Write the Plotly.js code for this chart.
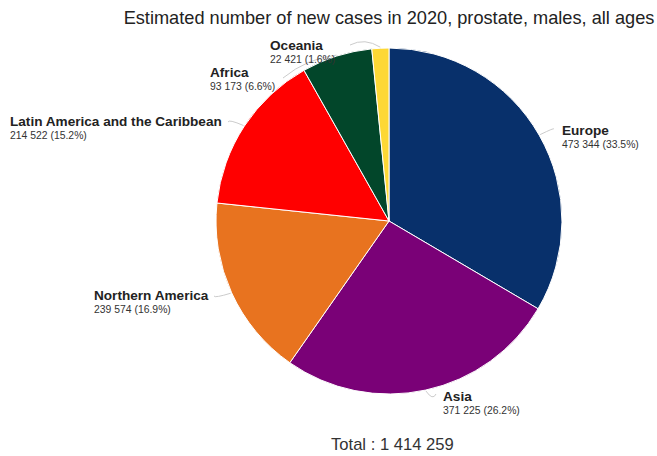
<!DOCTYPE html>
<html>
<head>
<meta charset="utf-8">
<script src="https://cdn.plot.ly/plotly-3.0.1.min.js"></script>
<style>html,body{margin:0;padding:0;background:#fff;}#chart{width:657px;height:456px;}</style>
</head>
<body>
<div id="chart"></div>
<script>
// ---- data ----
const regions = ["Europe", "Asia", "Northern America", "Latin America and the Caribbean", "Africa", "Oceania"];
const cases = [473344, 371225, 239574, 214522, 93173, 22421];
const titleText = "Estimated number of new cases in 2020, prostate, males, all ages";

// ---- styles / layout (pixel positions of labels) ----
const colors = ["#08306b", "#7a0177", "#e8731f", "#ff0000", "#02462a", "#fdd835"];
const W = 657, H = 456;
const cx = 389, cy = 221, R = 173;
const labelLayout = [
  {x: 560, y: 130, lx: 554, ly: 129},
  {x: 441, y: 396, lx: 436, ly: 394},
  {x: 92,  y: 295, lx: 214, ly: 296},
  {x: 8,   y: 121, lx: 228, ly: 122},
  {x: 208, y: 72,  lx: 283, ly: 78},
  {x: 268, y: 46,  lx: 350, ly: 45}
];

function fmt(n) { return String(n).replace(/\B(?=(\d{3})+(?!\d))/g, " "); }
const px = x => x / W;
const py = y => 1 - y / H;

const total = cases.reduce((a, b) => a + b, 0);
const FONT = "Liberation Sans, Arial, sans-serif";

const annotations = [];
const shapes = [];
let cum = 0;
regions.forEach((name, i) => {
  const frac = cases[i] / total;
  const mid = (cum + frac / 2) * 2 * Math.PI;
  cum += frac;
  const L = labelLayout[i];
  annotations.push({
    text: "<b>" + name + "</b>", xref: "paper", yref: "paper",
    x: px(L.x), y: py(L.y), xanchor: "left", yanchor: "middle", showarrow: false,
    font: {family: FONT, size: 13.6, color: "#222"}
  });
  annotations.push({
    text: fmt(cases[i]) + " (" + (frac * 100).toFixed(1) + "%)", xref: "paper", yref: "paper",
    x: px(L.x), y: py(L.y + 14), xanchor: "left", yanchor: "middle", showarrow: false,
    font: {family: FONT, size: 10.4, color: "#333"}
  });
  const ex = cx + (R + 1) * Math.sin(mid), ey = cy - (R + 1) * Math.cos(mid);
  const qx = (L.lx + ex) / 2 + (ex - cx) * 0.05, qy = (L.ly + ey) / 2 + (ey - cy) * 0.05;
  shapes.push({
    type: "path", xref: "paper", yref: "paper",
    path: "M " + px(L.lx) + " " + py(L.ly) + " Q " + px(qx) + " " + py(qy) + " " + px(ex) + " " + py(ey),
    line: {color: "#cccccc", width: 1}, layer: "below"
  });
});

annotations.push({
  text: "Total : " + fmt(total), xref: "paper", yref: "paper",
  x: px(392), y: py(444), xanchor: "center", yanchor: "middle", showarrow: false,
  font: {family: FONT, size: 16.6, color: "#333"}
});

const trace = {
  type: "pie",
  labels: regions,
  values: cases,
  sort: false,
  direction: "clockwise",
  rotation: 0,
  textinfo: "none",
  hoverinfo: "label+value+percent",
  marker: {colors: colors, line: {color: "#ffffff", width: 1}},
  domain: {x: [px(cx - R), px(cx + R)], y: [py(cy + R), py(cy - R)]},
  showlegend: false
};

const layout = {
  width: W, height: H,
  margin: {l: 0, r: 0, t: 0, b: 0},
  paper_bgcolor: "#ffffff",
  title: {
    text: titleText, x: px(389), xanchor: "center", y: py(18), yanchor: "middle",
    font: {family: FONT, size: 18.2, color: "#222"}
  },
  showlegend: false,
  annotations: annotations,
  shapes: shapes
};

Plotly.newPlot("chart", [trace], layout, {staticPlot: true});
</script>
</body>
</html>
